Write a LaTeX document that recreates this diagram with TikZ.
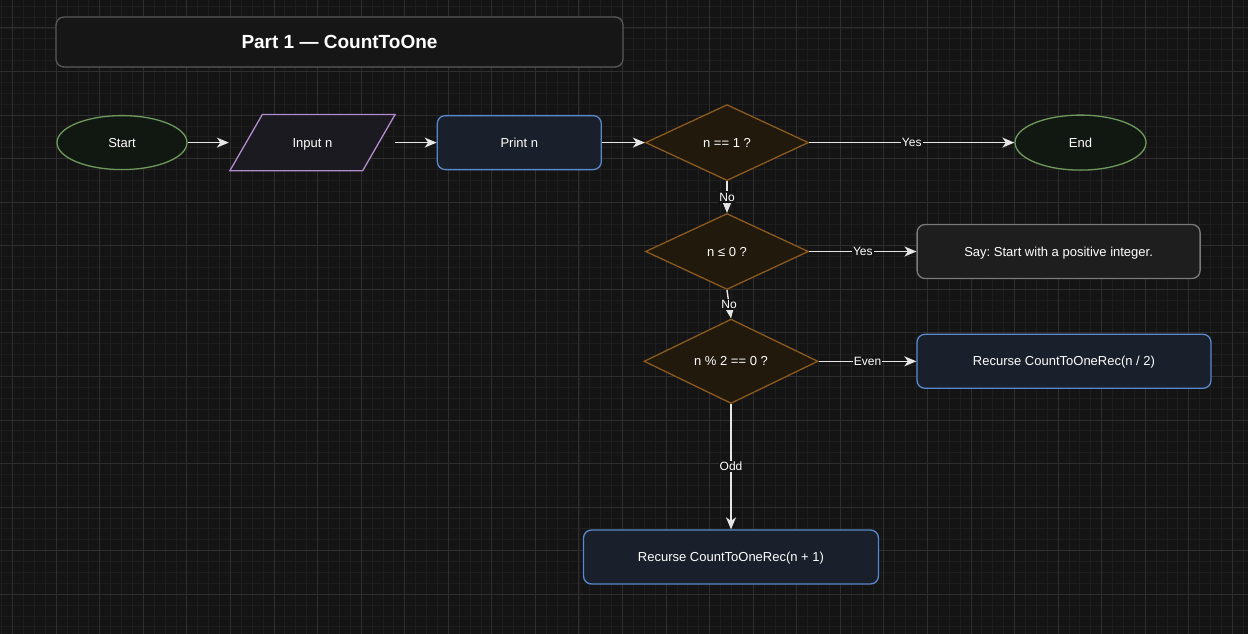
\documentclass[tikz,border=0pt]{standalone}
\usepackage{fontspec}
\setmainfont{Liberation Sans}
\usetikzlibrary{shapes.geometric,arrows.meta}

\definecolor{bg}{HTML}{141414}
\definecolor{gridminor}{HTML}{1E1E1E}
\definecolor{gridmajor}{HTML}{2E2E2E}
\definecolor{titlefill}{HTML}{161616}
\definecolor{titleline}{HTML}{5A5A5A}
\definecolor{termfill}{HTML}{111812}
\definecolor{termline}{HTML}{6E9A5C}
\definecolor{iofill}{HTML}{1B1A20}
\definecolor{ioline}{HTML}{B58BCF}
\definecolor{procfill}{HTML}{19202B}
\definecolor{procline}{HTML}{5A88CC}
\definecolor{decfill}{HTML}{20190C}
\definecolor{decline}{HTML}{8C5A1E}
\definecolor{sayfill}{HTML}{1E1E1E}
\definecolor{sayline}{HTML}{7A7A7A}
\definecolor{wire}{HTML}{E6E6E6}

\tikzset{
  base/.style={font=\fontsize{13}{15}\selectfont, text=white, inner sep=0pt,
    text height=10pt, text depth=0.7pt, line width=1.3pt},
  titlebox/.style={base, draw=titleline, fill=titlefill, rounded corners=8pt,
    minimum width=567pt, minimum height=50pt, text height=14pt, text depth=0.4pt,
    font=\fontsize{19}{22}\selectfont\bfseries},
  terminal/.style={base, ellipse, draw=termline, fill=termfill},
  iobox/.style={base, rectangle, minimum width=164pt, minimum height=55pt},
  procbox/.style={base, rectangle, rounded corners=8pt, draw=procline, fill=procfill, minimum height=54pt},
  saybox/.style={base, rectangle, rounded corners=8pt, draw=sayline, fill=sayfill, minimum height=54pt},
  decision/.style={base, diamond, draw=decline, fill=decfill, minimum height=76pt},
  flow/.style={draw=wire, line width=1.4pt, -{Stealth[length=12pt, width=10pt, inset=3.5pt]}},
  tag/.style={font=\fontsize{12}{14}\selectfont, text=white, fill=bg, inner sep=1pt,
    text height=8.8pt, text depth=0.4pt}
}

\begin{document}
\frenchspacing
\begin{tikzpicture}[x=1pt, y=-1pt]
  % canvas and grid
  \fill[bg] (0,0) rectangle (1248,634);
  \useasboundingbox (0,0) rectangle (1248,634);
  \foreach \i in {0,...,114} \draw[gridminor, line width=0.9pt] ({1.8+\i*10.89},0) -- ++(0,634);
  \foreach \j in {0,...,57} \draw[gridminor, line width=0.9pt] (0,{6.18+\j*10.89}) -- ++(1248,0);
  \foreach \i in {0,...,28} \draw[gridmajor, line width=1pt] ({12.7+\i*43.56},0) -- ++(0,634);
  \foreach \j in {0,...,14} \draw[gridmajor, line width=1pt] (0,{27.96+\j*43.56}) -- ++(1248,0);

  % heading
  \node[titlebox] (title) at (339.5,42) {Part 1 — CountToOne};

  % main row
  \node[terminal, minimum width=130pt, minimum height=54pt] (start) at (122,142.6) {Start};
  \node[iobox] (inp) at (312.5,142.6) {};
  \draw[ioline, fill=iofill, line width=1.3pt]
    ([xshift=32.5pt]inp.north west) -- (inp.north east)
    -- ([xshift=-32.5pt]inp.south east) -- (inp.south west) -- cycle;
  \node[base] at (inp.center) {Input n};
  \node[procbox, minimum width=164pt] (print) at (519.3,142.6) {Print n};
  \node[decision, minimum width=163pt] (d1) at (727,142.6) {n == 1 ?};
  \node[terminal, minimum width=131pt, minimum height=55pt] (end) at (1080.5,142.6) {End};

  % checks
  \node[decision, minimum width=163pt] (d2) at (727,251.5) {n ≤ 0 ?};
  \node[saybox, minimum width=283pt] (say) at (1058.6,251.5) {Say: Start with a positive integer.};
  \node[decision, minimum width=174pt] (d3) at (731,361.3) {n \% 2 == 0 ?};
  \node[procbox, minimum width=294pt] (rec2) at (1064,361.3) {Recurse CountToOneRec(n / 2)};
  \node[procbox, minimum width=295pt] (rec1) at (731,557) {Recurse CountToOneRec(n + 1)};

  % connectors
  \draw[flow] (start.east) -- ([xshift=-1pt]inp.west);
  \draw[flow] (inp.east) -- (print.west);
  \draw[flow] (print.east) -- (d1.west);
  \draw[flow] (d1.east) -- node[tag] {Yes} (end.west);
  \draw[flow] (d1.south) -- node[tag] {No} (d2.north);
  \draw[flow] (d2.east) -- node[tag] {Yes} (say.west);
  \draw[flow] (d2.south) -- node[tag] {No} (d3.north);
  \draw[flow] (d3.east) -- node[tag] {Even} (rec2.west);
  \draw[flow] (d3.south) -- node[tag] {Odd} (rec1.north);
\end{tikzpicture}
\end{document}
